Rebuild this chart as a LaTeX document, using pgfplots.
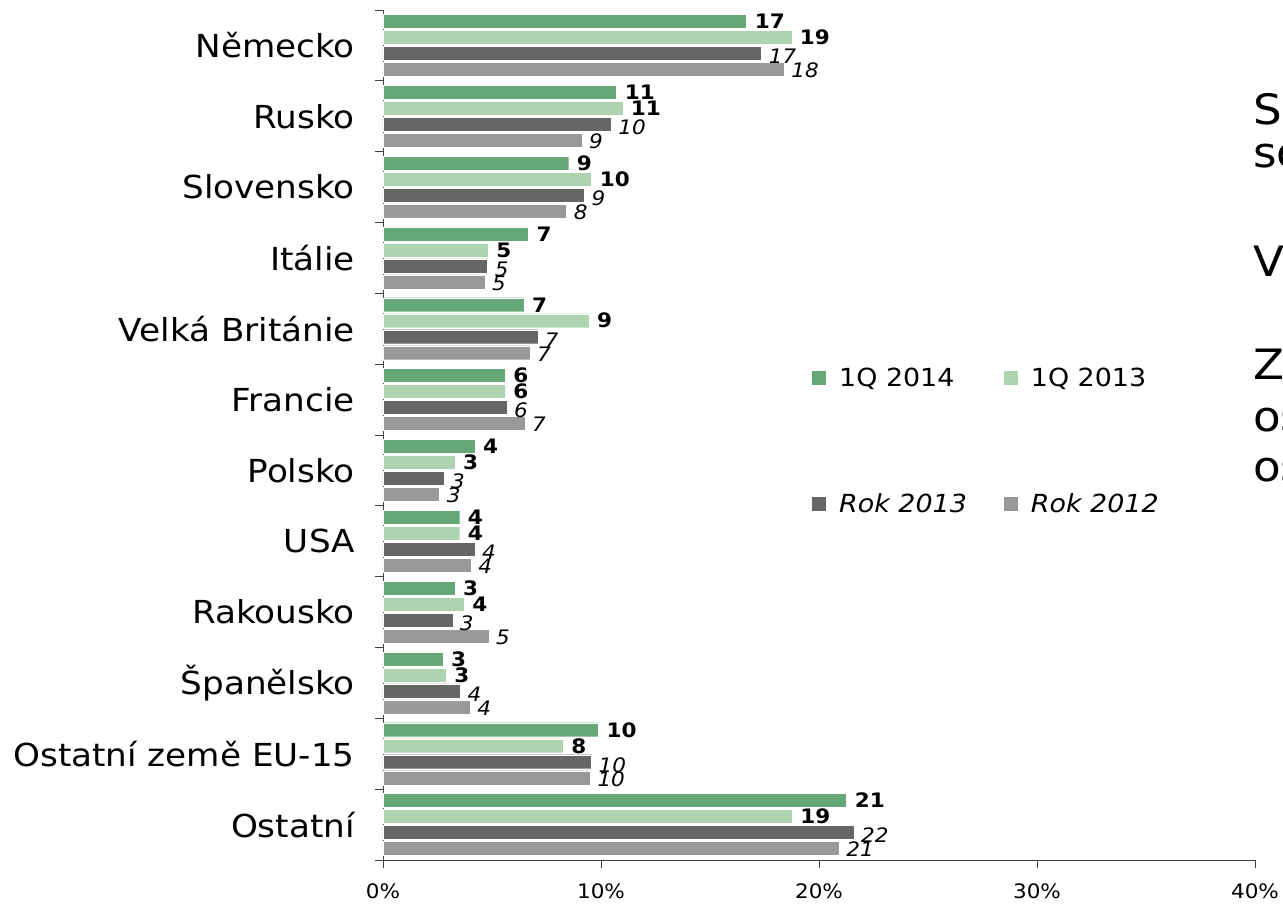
\documentclass[border=0pt]{standalone}
\usepackage{fontspec}
\setmainfont[FakeStretch=1.08]{DejaVu Sans}
\usepackage{pgfplots}
\pgfplotsset{compat=1.18}
\definecolor{gA}{HTML}{66A777}
\definecolor{gB}{HTML}{AED3B1}
\definecolor{kA}{HTML}{666666}
\definecolor{kB}{HTML}{999999}
\begin{document}
\begin{tikzpicture}
\begin{axis}[
  scale only axis, width=872bp, height=850bp,
  xmin=0, xmax=40, ymin=-0.5, ymax=11.5,
  xbar, bar width=14bp,
  axis lines*=left,
  axis line style={black!75, line width=0.8bp},
  xtick={0,10,20,30,40}, xticklabels={0\%,10\%,20\%,30\%,40\%},
  ytick={0,...,11},
  yticklabels={Ostatní, Ostatní země EU-15, Španělsko, Rakousko, USA, Polsko, Francie, Velká Británie, Itálie, Slovensko, Rusko, Německo},
  minor ytick={-0.5,0.5,...,11.5},
  tick align=outside,
  major tick length=8bp, minor tick length=8bp,
  major y tick style={draw=none},
  tick style={black!75, line width=0.8bp},
  yticklabel style={font=\fontsize{31.8}{36}\selectfont, inner sep=0pt, anchor=east, xshift=-20bp},
  xticklabel style={font=\fontsize{20}{24}\selectfont, yshift=-12bp},
  point meta=explicit symbolic,
  clip=false,
  legend columns=2,
  legend entries={1Q 2014, 1Q 2013, \textit{Rok 2013}, \textit{Rok 2012}},
  legend image code/.code={\fill[#1,draw=none] (0bp,-7bp) rectangle (14bp,7bp);},
  legend style={at={(rel axis cs:0.492,0.581)}, anchor=north west, draw=none, fill=none,
    inner sep=0pt, font=\fontsize{25}{29}\selectfont, row sep=101bp,
    /tikz/every odd column/.append style={column sep=11bp},
    /tikz/every even column/.append style={column sep=35bp}},
  legend cell align=left,
]
\addplot[fill=gA, draw=white, line width=0.4bp, bar shift=24bp, nodes near coords,
  every node near coord/.append style={anchor=west, font=\fontsize{20}{24}\selectfont\bfseries, inner sep=2bp, xshift=6bp}]
  coordinates {(16.68,11) [17] (10.72,10) [11] (8.52,9) [9] (6.67,8) [7] (6.47,7) [7] (5.6,6) [6] (4.22,5) [4] (3.52,4) [4] (3.3,3) [3] (2.75,2) [3] (9.88,1) [10] (21.27,0) [21]};
\addplot[fill=gB, draw=white, line width=0.4bp, bar shift=8bp, nodes near coords,
  every node near coord/.append style={anchor=west, font=\fontsize{20}{24}\selectfont\bfseries, inner sep=2bp, xshift=6bp}]
  coordinates {(18.75,11) [19] (11.0,10) [11] (9.57,9) [10] (4.83,8) [5] (9.45,7) [9] (5.6,6) [6] (3.3,5) [3] (3.52,4) [4] (3.72,3) [4] (2.9,2) [3] (8.26,1) [8] (18.77,0) [19]};
\addplot[fill=kA, draw=white, line width=0.4bp, bar shift=-8bp, nodes near coords,
  every node near coord/.append style={anchor=west, font=\fontsize{20}{24}\selectfont\itshape, inner sep=2bp, xshift=5bp, yshift=-3bp}]
  coordinates {(17.37,11) [17] (10.47,10) [10] (9.24,9) [9] (4.8,8) [5] (7.1,7) [7] (5.69,6) [6] (2.8,5) [3] (4.22,4) [4] (3.2,3) [3] (3.55,2) [4] (9.56,1) [10] (21.6,0) [22]};
\addplot[fill=kB, draw=white, line width=0.4bp, bar shift=-24bp, nodes near coords,
  every node near coord/.append style={anchor=west, font=\fontsize{20}{24}\selectfont\itshape, inner sep=2bp, xshift=5bp, yshift=-1bp}]
  coordinates {(18.4,11) [18] (9.13,10) [9] (8.42,9) [8] (4.68,8) [5] (6.74,7) [7] (6.51,6) [7] (2.6,5) [3] (4.04,4) [4] (4.86,3) [5] (4.0,2) [4] (9.51,1) [10] (20.93,0) [21]};
\end{axis}
\begin{scope}
\clip (-383bp,-46bp) rectangle (900bp,860bp);
\node[anchor=base west, font=\fontsize{42}{50}\selectfont, inner sep=0pt] at (870bp,735bp) {S};
\node[anchor=base west, font=\fontsize{42}{50}\selectfont, inner sep=0pt] at (870bp,692bp) {so};
\node[anchor=base west, font=\fontsize{42}{50}\selectfont, inner sep=0pt] at (870bp,583bp) {V};
\node[anchor=base west, font=\fontsize{42}{50}\selectfont, inner sep=0pt] at (870bp,480bp) {Z};
\node[anchor=base west, font=\fontsize{42}{50}\selectfont, inner sep=0pt] at (870bp,428bp) {os};
\node[anchor=base west, font=\fontsize{42}{50}\selectfont, inner sep=0pt] at (870bp,378bp) {os};
\end{scope}
\pgfresetboundingbox
\useasboundingbox (-383bp,-46bp) rectangle (900bp,860bp);
\end{tikzpicture}
\end{document}
